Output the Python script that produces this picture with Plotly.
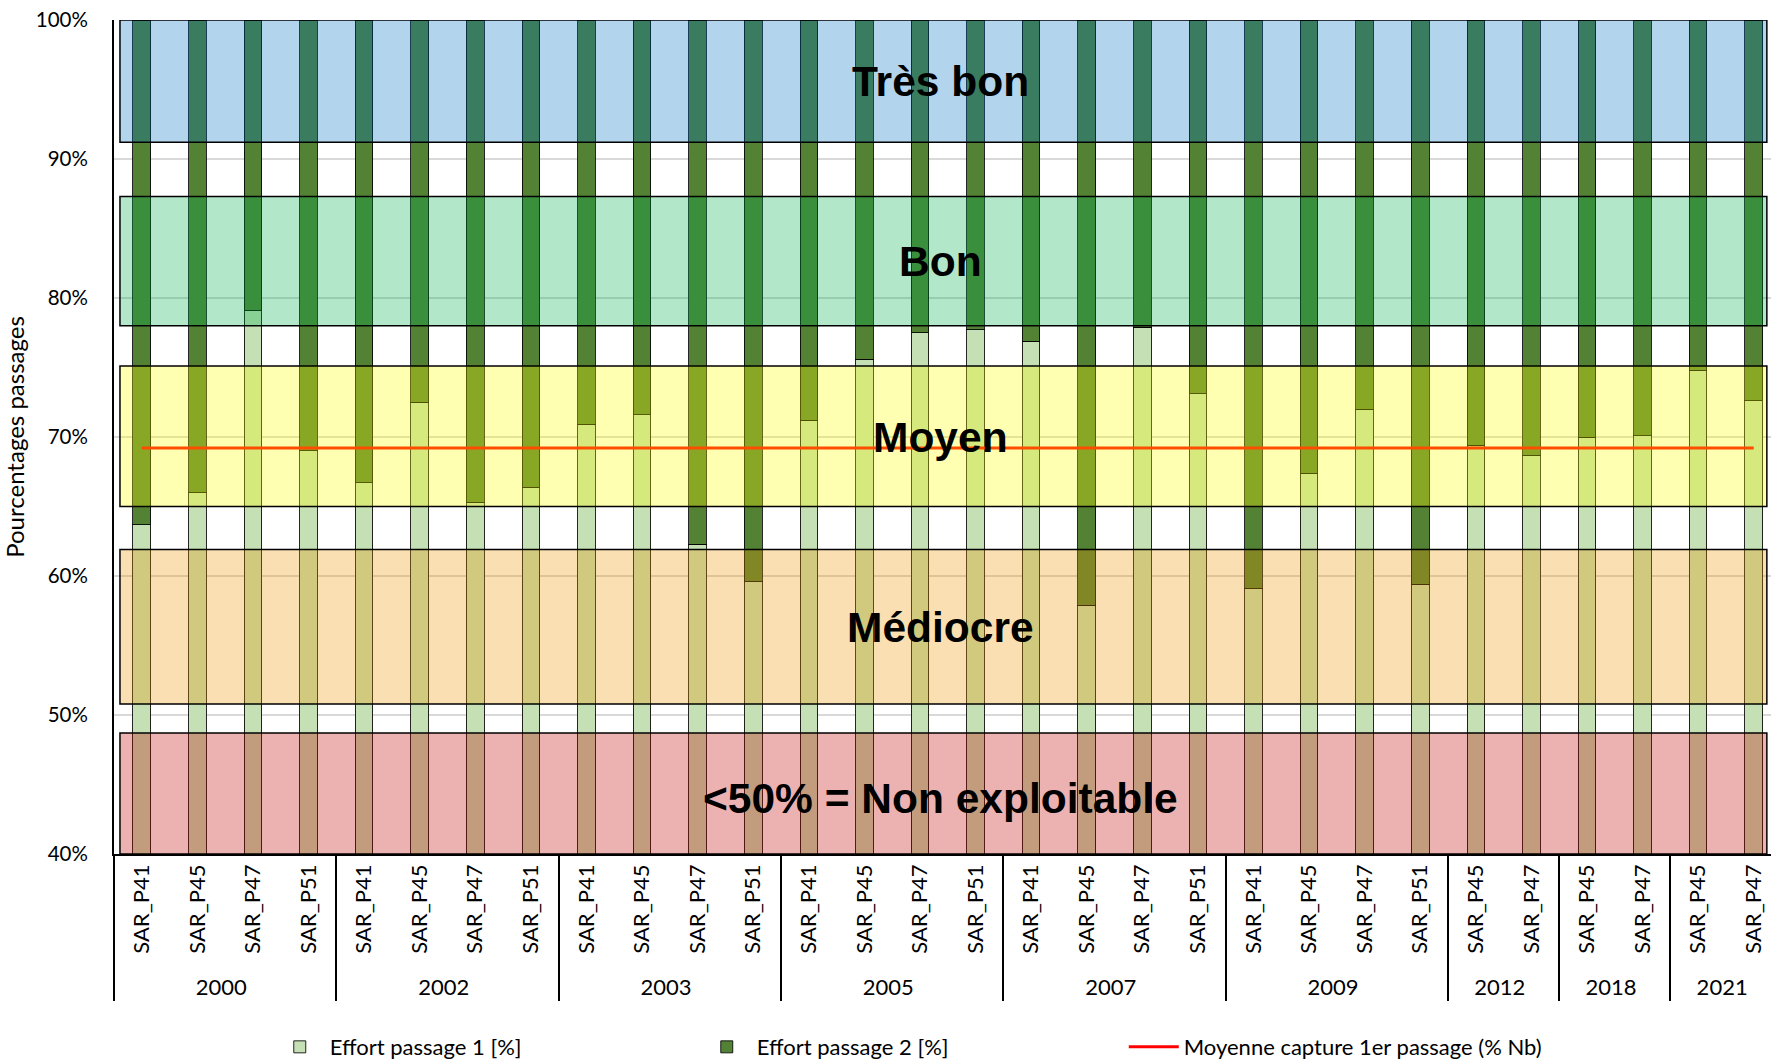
import plotly.graph_objects as go

# ---- data ----
years = ["2000"] * 4 + ["2002"] * 4 + ["2003"] * 4 + ["2005"] * 4 + ["2007"] * 4 + ["2009"] * 4 \
    + ["2012"] * 2 + ["2018"] * 2 + ["2021"] * 2
sites = ["SAR_P41", "SAR_P45", "SAR_P47", "SAR_P51"] * 6 + ["SAR_P45", "SAR_P47"] * 3

effort_p1 = [63.7, 66.0, 79.1, 69.0,
             66.7, 72.5, 65.3, 66.4,
             70.9, 71.6, 62.3, 59.6,
             71.2, 75.6, 77.5, 77.7,
             76.9, 57.9, 77.9, 73.1,
             59.1, 67.4, 72.0, 59.4,
             69.4, 68.7,
             70.0, 70.1,
             74.8, 72.6]
effort_p2 = [36.3, 34.0, 20.9, 31.0,
             33.3, 27.5, 34.7, 33.6,
             29.1, 28.4, 37.7, 40.4,
             28.8, 24.4, 22.5, 22.3,
             23.1, 42.1, 22.1, 26.9,
             40.9, 32.6, 28.0, 40.6,
             30.6, 31.3,
             30.0, 29.9,
             25.2, 27.4]
mean_capture = 69.2

band_labels = ["Très bon", "Bon", "Moyen", "Médiocre", "<50% = Non exploitable"]
band_low = [91.2, 78.0, 65.0, 50.8, 40.0]
band_high = [100.0, 87.3, 75.1, 61.9, 48.7]
band_colors = ["rgba(0,112,192,0.3)", "rgba(0,176,80,0.3)", "rgba(255,255,0,0.3)",
               "rgba(240,150,0,0.3)", "rgba(192,0,0,0.3)"]
band_text_y = [95.6, 82.6, 70.0, 56.3, 44.0]

ytick_vals = [40, 50, 60, 70, 80, 90, 100]
ytick_text = ["40%", "50%", "60%", "70%", "80%", "90%", "100%"]

# ---- figure ----
x = [years, sites]
fig = go.Figure()
fig.add_trace(go.Bar(x=x, y=effort_p1, name="Effort passage 1 [%]",
                     marker=dict(color="#C5E0B4", line=dict(color="rgba(0,0,0,0.85)", width=1))))
fig.add_trace(go.Bar(x=x, y=effort_p2, name="Effort passage 2 [%]",
                     marker=dict(color="#548235", line=dict(color="rgba(0,0,0,0.85)", width=1))))
fig.add_trace(go.Scatter(x=x, y=[mean_capture] * len(sites), mode="lines",
                         name="Moyenne capture 1er passage (% Nb)",
                         line=dict(color="#FF0000", width=3)))

for lo, hi, col in zip(band_low, band_high, band_colors):
    fig.add_shape(type="rect", xref="paper", yref="y", x0=0.0036, x1=0.9975, y0=lo, y1=hi,
                  fillcolor=col, line=dict(color="black", width=1.5), layer="above")

for lab, ty in zip(band_labels, band_text_y):
    fig.add_annotation(xref="paper", yref="y", x=0.499, y=ty, text=lab, showarrow=False,
                       font=dict(family="Liberation Sans", size=42.5, color="black", weight="bold"))

fig.update_layout(
    width=1771, height=1059,
    margin=dict(l=114, r=0, t=20, b=205),
    paper_bgcolor="white", plot_bgcolor="white",
    barmode="stack", bargap=0.683,
    font=dict(family="Lato", size=21, color="black"),
    showlegend=True,
    legend=dict(orientation="h", x=0.094, xref="paper", y=0.0113, yref="container",
                xanchor="left", yanchor="middle",
                entrywidth=362, entrywidthmode="pixels", traceorder="normal",
                itemwidth=50, font=dict(size=22)),
)
fig.update_xaxes(type="multicategory", range=[-0.5, 29.31], tickangle=-90,
                 showline=True, linecolor="black", linewidth=1.5,
                 showdividers=True, dividercolor="black", dividerwidth=1.5,
                 ticks="", tickfont=dict(size=22), automargin=False)
fig.update_yaxes(range=[40, 100], tickvals=ytick_vals, ticktext=ytick_text,
                 showgrid=True, gridcolor="#D9D9D9", gridwidth=1.5,
                 showline=True, linecolor="black", linewidth=2,
                 ticklabelstandoff=20, ticklabeloverflow="allow",
                 title=dict(text="Pourcentages passages", font=dict(size=24), standoff=5),
                 tickfont=dict(size=20.5), zeroline=False, automargin=False)

# remove the default 8px page margin so the figure fills the window exactly
fig.write_html("out.html", config={"displayModeBar": False},
               post_script="document.body.style.margin='0px';")
